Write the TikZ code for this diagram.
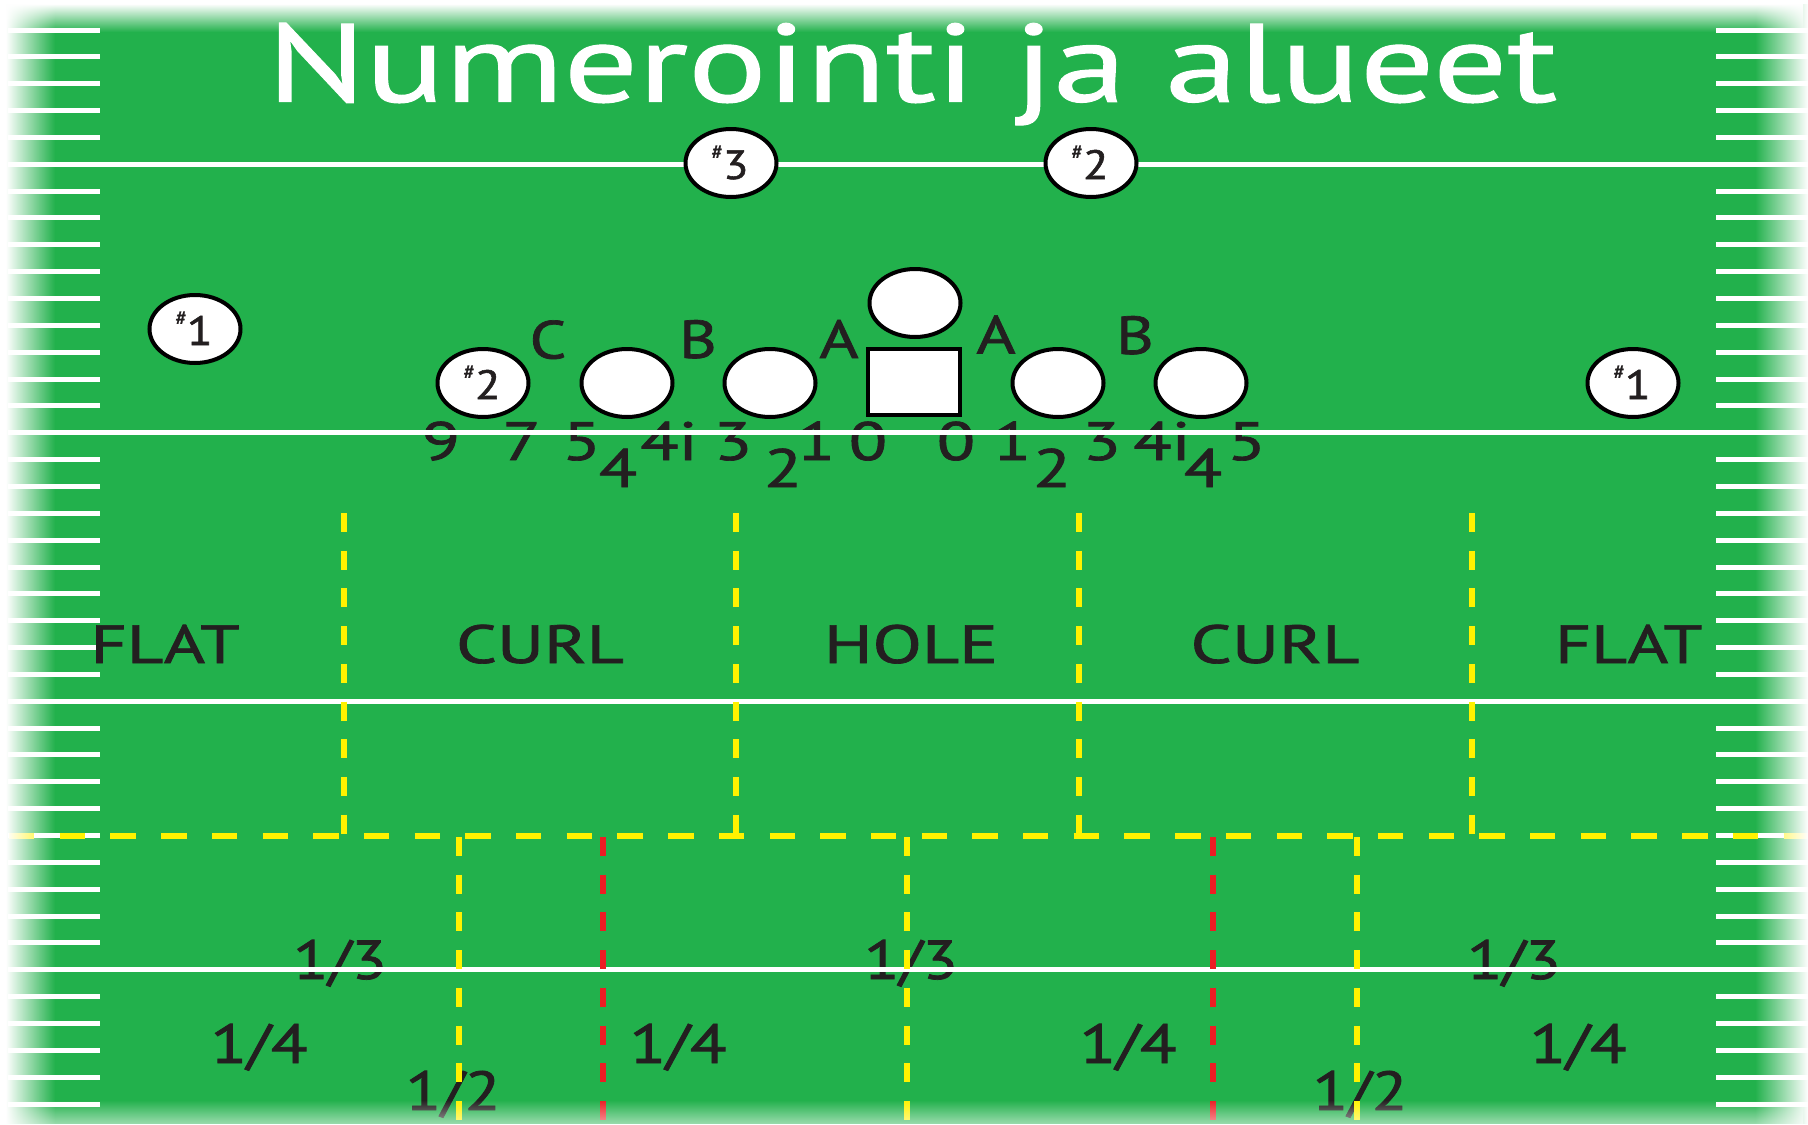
\documentclass[tikz,border=0pt]{standalone}
\usepackage{fontspec}
\setmainfont{PT Sans}[FakeBold=1.3]
\newfontfamily\titlefont{PT Sans}[FakeBold=0.9]
\usepackage{graphicx}
\usetikzlibrary{shapes.geometric,fadings}
\definecolor{fgreen}{HTML}{22B14C}
\definecolor{txtc}{HTML}{231F20}
\definecolor{fyellow}{HTML}{FFF200}
\definecolor{fred}{HTML}{ED1C24}
\tikzfading[name=fadeL, left color=transparent!0, right color=transparent!100]
\tikzfading[name=fadeR, left color=transparent!100, right color=transparent!0]
\tikzfading[name=fadeT, top color=transparent!0, bottom color=transparent!100]
\tikzfading[name=fadeB, top color=transparent!100, bottom color=transparent!45]
\newcommand{\hstretch}[2]{\scalebox{#1}[1]{#2}}
\newcommand{\numlab}[1]{{\fontsize{10.5}{11}\selectfont\raisebox{10pt}{\#}}{\fontsize{20.5}{21}\selectfont\hstretch{1.15}{#1}}}
\newcommand{\zonelab}[2]{{\fontsize{26.9}{28}\selectfont\resizebox{#1}{\height}{#2}}}
\newcommand{\fraclab}[2]{{\fontsize{27.5}{28}\selectfont\resizebox{#1}{\height}{#2}}}
\tikzset{
  hash/.style={draw=white, line width=2.5pt},
  yard/.style={draw=white, line width=2.5pt},
  ydashv/.style={draw=fyellow, line width=3pt, dash pattern=on 9.5pt off 9.35pt},
  rdashv/.style={draw=fred, line width=3pt, dash pattern=on 9.5pt off 9.35pt},
  ydashh/.style={draw=fyellow, line width=3pt, dash pattern=on 12.7pt off 12.65pt},
  pl/.style={ellipse, draw=black, fill=white, line width=2pt, minimum width=45.5pt, minimum height=34pt, inner sep=0pt},
  ctrbox/.style={rectangle, draw=black, fill=white, line width=2pt, minimum width=45.75pt, minimum height=33.25pt, inner sep=0pt},
  lbl/.style={text=txtc, inner sep=0pt, outer sep=0pt, anchor=base},
  numrow/.style={lbl, font=\fontsize{27}{28}\selectfont},
  letr/.style={lbl, font=\fontsize{26.8}{27}\selectfont},
  plab/.style={text=txtc, inner sep=0pt, anchor=base}
}
\begin{document}
\begin{tikzpicture}[x=0.5pt, y=-0.5pt]
\useasboundingbox (0,0) rectangle (1808,1124);
\fill[fgreen] (0,0) rectangle (1808,1124);
% hash marks
\foreach \k in {0,1,2,3,4,6,7,8,9,10,11,12,13,14,16,17,18,19,20,21,22,23,24,26,27,28,29,30,31,32,33,34,36,37,38,39,40}{
  \draw[hash] (8,{30+26.85*\k}) -- (100,{30+26.85*\k});
  \draw[hash] (1716,{30+26.85*\k}) -- (1808,{30+26.85*\k});
}
% title
\node[anchor=base, inner sep=0pt, text=white] (title) at (912,101.7)
  {\titlefont\fontsize{55.5}{60}\selectfont\resizebox{645pt}{\height}{Numerointi ja alueet}};
% zone labels
\node[lbl] (flatL) at (165,663) {\zonelab{74.5pt}{FLAT}};
\node[lbl] (curlL) at (540,663) {\zonelab{84pt}{CURL}};
\node[lbl] (hole) at (911,663) {\zonelab{87pt}{HOLE}};
\node[lbl] (curlR) at (1275,663) {\zonelab{84.5pt}{CURL}};
\node[lbl] (flatR) at (1628.7,663) {\zonelab{73.5pt}{FLAT}};
% fractions
\node[lbl] (t1) at (340,979) {\fraclab{47pt}{1/3}};
\node[lbl] (t2) at (911,979) {\fraclab{47pt}{1/3}};
\node[lbl] (t3) at (1514,979) {\fraclab{47pt}{1/3}};
\node[lbl] (q1) at (259,1063) {\fraclab{48.5pt}{1/4}};
\node[lbl] (q2) at (678,1063) {\fraclab{48.5pt}{1/4}};
\node[lbl] (q3) at (1128,1063) {\fraclab{48.5pt}{1/4}};
\node[lbl] (q4) at (1578,1063) {\fraclab{48.5pt}{1/4}};
\node[lbl] (h1) at (453,1110) {\fraclab{47.5pt}{1/2}};
\node[lbl] (h2) at (1360,1110) {\fraclab{47.5pt}{1/2}};
% gap numbers
\node[numrow] (n9) at (441,460) {\hstretch{1.3}{9}};
\node[numrow] (n7) at (521.7,460) {\hstretch{1.3}{7}};
\node[numrow] (n5l) at (581.7,460) {\hstretch{1.3}{5}};
\node[numrow] (n4il) at (669,460) {\hstretch{1.3}{4i}};
\node[numrow] (n3l) at (733,460) {\hstretch{1.3}{3}};
\node[numrow] (n1l) at (816,460) {\hstretch{1.3}{1}};
\node[numrow] (n0l) at (868,460) {\hstretch{1.3}{0}};
\node[numrow] (n0r) at (956,460) {\hstretch{1.3}{0}};
\node[numrow] (n1r) at (1012,460) {\hstretch{1.3}{1}};
\node[numrow] (n3r) at (1101.7,460) {\hstretch{1.3}{3}};
\node[numrow] (n4ir) at (1162,460) {\hstretch{1.3}{4i}};
\node[numrow] (n5r) at (1246.7,460) {\hstretch{1.3}{5}};
\node[numrow] (s4l) at (618,487) {\hstretch{1.3}{4}};
\node[numrow] (s2l) at (783,487) {\hstretch{1.3}{2}};
\node[numrow] (s2r) at (1052,487) {\hstretch{1.3}{2}};
\node[numrow] (s4r) at (1203,487) {\hstretch{1.3}{4}};
% yard lines
\foreach \k in {5,15,25,35}{
  \draw[yard] (8,{30+26.85*\k}) -- (1808,{30+26.85*\k});
}
% zone dashed lines
\draw[ydashh] (9,836) -- (1808,836);
\foreach \xx in {343.5,736,1079,1471.5}{
  \draw[ydashv] (\xx,513) -- (\xx,836);
}
\foreach \xx in {458.5,907,1357}{
  \draw[ydashv] (\xx,837) -- (\xx,1124);
}
\foreach \xx in {602.5,1213}{
  \draw[rdashv] (\xx,837) -- (\xx,1124);
}
% players
\node[pl] (p3) at (731,163) {};
\node[pl] (p2t) at (1091,163) {};
\node[pl] (p1l) at (195,329) {};
\node[pl] (p2l) at (483,383) {};
\node[pl] (g1) at (627,383) {};
\node[pl] (g2) at (770,383) {};
\node[ctrbox] (ctr) at (914,382) {};
\node[pl] (qb) at (915,303) {};
\node[pl] (g3) at (1058,383) {};
\node[pl] (g4) at (1201,383) {};
\node[pl] (p1r) at (1633,383) {};
\node[plab] (p3t) at (730,179) {\numlab{3}};
\node[plab] (p2tt) at (1090,179) {\numlab{2}};
\node[plab] (p1lt) at (194,345) {\numlab{1}};
\node[plab] (p2lt) at (482,399) {\numlab{2}};
\node[plab] (p1rt) at (1632,399) {\numlab{1}};
% gap letters
\node[letr] (lc) at (548,358.5) {\hstretch{1.2}{C}};
\node[letr] (lbl1) at (698,358) {\hstretch{1.2}{B}};
\node[letr] (la1) at (839,358) {\hstretch{1.25}{A}};
\node[letr] (la2) at (996,353.5) {\hstretch{1.25}{A}};
\node[letr] (lb2) at (1135,354) {\hstretch{1.2}{B}};
% edge fades
\fill[white] (0,0) rectangle (6,1124);
\fill[white, path fading=fadeL] (6,0) rectangle (55,1124);
\fill[white] (0,0) rectangle (1808,4);
\fill[white, path fading=fadeT] (0,4) rectangle (1808,32);
\fill[white, path fading=fadeR] (1755,0) rectangle (1808,1124);
\fill[white, path fading=fadeB] (0,1100) rectangle (1808,1124);
\end{tikzpicture}
\end{document}
